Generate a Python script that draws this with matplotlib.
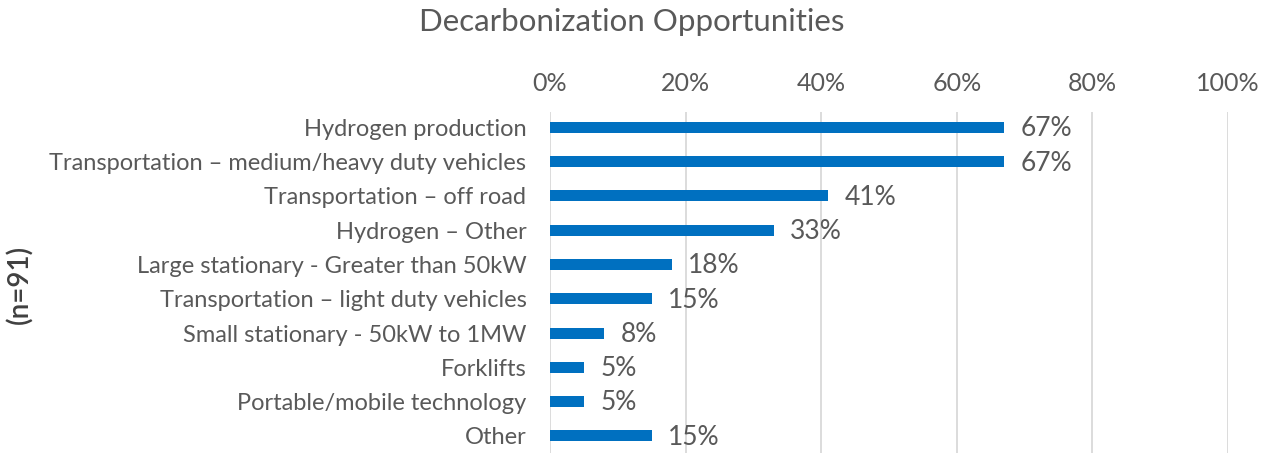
import matplotlib.pyplot as plt

categories = ["Hydrogen production",
              "Transportation – medium/heavy duty vehicles",
              "Transportation – off road",
              "Hydrogen – Other",
              "Large stationary - Greater than 50kW",
              "Transportation – light duty vehicles",
              "Small stationary - 50kW to 1MW",
              "Forklifts",
              "Portable/mobile technology",
              "Other"]
values = [67, 67, 41, 33, 18, 15, 8, 5, 5, 15]
xticks = [0, 20, 40, 60, 80, 100]
xtick_labels = ["0%", "20%", "40%", "60%", "80%", "100%"]

plt.rcParams['font.family'] = ['Lato', 'DejaVu Sans']
txt = "#595959"

fig = plt.figure(figsize=(12.63, 4.53), dpi=100)
ax = fig.add_axes([550/1263, 0, (1228-550)/1263, (453-112)/453])

pos = list(range(len(categories)))
ax.barh(pos, values, height=0.32, color="#0070C0", zorder=3)
for p, v in zip(pos, values):
    ax.text(v + 2.4, p + 0.04, "%d%%" % v, va='center', ha='left', fontsize=19, color=txt)

ax.set_ylim(len(categories) - 0.5, -0.45)
ax.set_xlim(0, 100)
ax.set_yticks(pos)
ax.set_yticklabels(categories, fontsize=17, color=txt)
ax.set_xticks(xticks)
ax.set_xticklabels(xtick_labels, fontsize=18, color=txt)
ax.xaxis.tick_top()
ax.tick_params(axis='both', length=0)
ax.tick_params(axis='x', pad=12)
ax.tick_params(axis='y', pad=17)
ax.grid(axis='x', color="#D9D9D9", linewidth=1.3, zorder=0)
for s in ax.spines.values():
    s.set_visible(False)

# y label "(n=91)" placed on the far left
fig.text(20/1263, 1 - 284/453, "(n=91)", rotation=90, ha='center', va='center',
         fontsize=20, color="#404040", fontweight='semibold')

fig.text(0.5, 0.952, "Decarbonization Opportunities", ha='center', va='center',
         fontsize=22.5, color=txt)

fig.savefig("out.png", dpi=100)
